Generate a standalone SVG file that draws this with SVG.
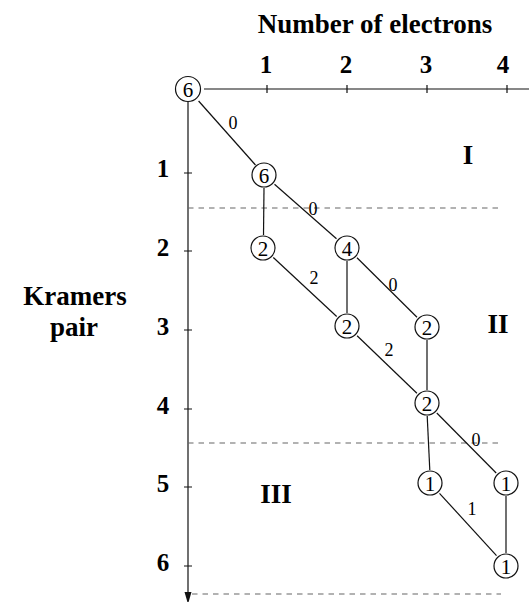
<svg xmlns="http://www.w3.org/2000/svg" width="529" height="602" viewBox="0 0 529 602">
<style>
text{font-family:'Liberation Serif','Times New Roman','DejaVu Serif',serif}
.b{font-weight:bold;fill:#000;text-anchor:middle}
.t{font-size:27px}
.d{font-size:25px}
.n{font-size:21px;fill:#000;text-anchor:middle}
.e{font-size:18px;fill:#000;text-anchor:middle}
.ln{stroke:#111;stroke-width:1.2;fill:none}
.ds{stroke:#666;stroke-width:1.2;stroke-dasharray:5.5 5;fill:none}
circle{fill:#fff;stroke:#111;stroke-width:1.2}
</style>
<g id="titles">
<text class="b t" x="375" y="33">Number of electrons</text>
<text class="b t" x="75" y="305">Kramers</text>
<text class="b t" x="74" y="336">pair</text>
</g>
<g id="axes">
<line class="ln" x1="204" y1="89" x2="529" y2="89"/>
<path class="ln" d="M267,85V93M347,85V93M427,85V93M507,85V93"/>
<line class="ln" x1="188" y1="102" x2="188" y2="593"/>
<path d="M184.5,592 L191.5,592 L188,604 Z" fill="#111"/>
<path class="ln" d="M184,173H192M184,251H192M184,330H192M184,409H192M184,487H192M184,566H192"/>
<text class="b d" x="266" y="73">1</text>
<text class="b d" x="346" y="73">2</text>
<text class="b d" x="426" y="73">3</text>
<text class="b d" x="503" y="73">4</text>
<text class="b d" x="163" y="177">1</text>
<text class="b d" x="163" y="256">2</text>
<text class="b d" x="163" y="335">3</text>
<text class="b d" x="163" y="414">4</text>
<text class="b d" x="163" y="492">5</text>
<text class="b d" x="163" y="571">6</text>
</g>
<g id="regions">
<line class="ds" x1="188" y1="208" x2="501" y2="208"/>
<line class="ds" x1="188" y1="443" x2="501" y2="443"/>
<line class="ds" x1="192" y1="594" x2="501" y2="594"/>
<text class="b t" x="468" y="164">I</text>
<text class="b t" x="498" y="333">II</text>
<text class="b t" x="276" y="503">III</text>
</g>
<g id="connectors">
<line class="ln" x1="198.6" y1="101" x2="255.5" y2="165"/>
<line class="ln" x1="274.5" y1="184.3" x2="336.5" y2="238.8"/>
<line class="ln" x1="264" y1="188" x2="263.5" y2="235"/>
<line class="ln" x1="273.3" y1="257.5" x2="336.7" y2="316.5"/>
<line class="ln" x1="347" y1="261" x2="347" y2="313"/>
<line class="ln" x1="357" y1="257.8" x2="417" y2="317.2"/>
<line class="ln" x1="357.1" y1="335.7" x2="416.9" y2="393.3"/>
<line class="ln" x1="427" y1="340" x2="427" y2="390"/>
<line class="ln" x1="427.2" y1="416" x2="429.8" y2="470"/>
<line class="ln" x1="436.8" y1="413" x2="496.2" y2="473"/>
<line class="ln" x1="439.5" y1="493.3" x2="496.5" y2="555.7"/>
<line class="ln" x1="506" y1="496" x2="506" y2="553"/>
<text class="e" x="233" y="129">0</text>
<text class="e" x="313" y="215">0</text>
<text class="e" x="314" y="284">2</text>
<text class="e" x="393" y="291">0</text>
<text class="e" x="389" y="356">2</text>
<text class="e" x="476" y="446">0</text>
<text class="e" x="472" y="515">1</text>
</g>
<g id="n0"><circle cx="188" cy="89" r="12.5"/><text class="n" x="188" y="96.5">6</text></g>
<g id="n1"><circle cx="264" cy="175" r="12"/><text class="n" x="264" y="182.5">6</text></g>
<g id="n2a"><circle cx="263" cy="248" r="12"/><text class="n" x="263" y="255.5">2</text></g>
<g id="n2b"><circle cx="347" cy="248" r="12"/><text class="n" x="347" y="255.5">4</text></g>
<g id="n3a"><circle cx="347" cy="326" r="12"/><text class="n" x="347" y="333.5">2</text></g>
<g id="n3b"><circle cx="427" cy="327" r="12"/><text class="n" x="427" y="334.5">2</text></g>
<g id="n4"><circle cx="427" cy="403" r="12"/><text class="n" x="427" y="410.5">2</text></g>
<g id="n5a"><circle cx="430" cy="483" r="12"/><text class="n" x="430" y="490.5">1</text></g>
<g id="n5b"><circle cx="506" cy="483" r="12"/><text class="n" x="506" y="490.5">1</text></g>
<g id="n6"><circle cx="506" cy="566" r="12"/><text class="n" x="506" y="573.5">1</text></g>
</svg>
